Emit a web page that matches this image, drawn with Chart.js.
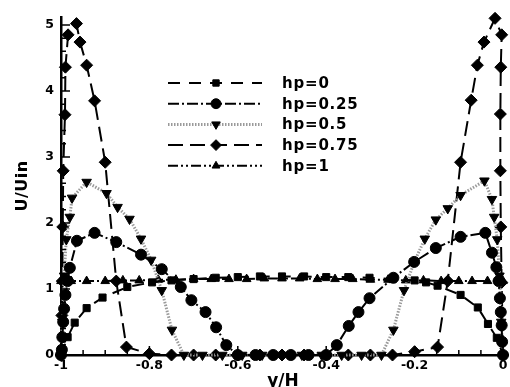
<!DOCTYPE html>
<html>
<head>
<meta charset="UTF-8">
<title>U/Uin profiles</title>
<script src="https://cdn.jsdelivr.net/npm/chart.js"></script>
<style>
  body { margin: 0; background: #fff; }
  #wrap { width: 510px; height: 387px; }
</style>
</head>
<body>
<div id="wrap"><canvas id="profile"></canvas></div>
<script>
const seriesNames = ['hp=0', 'hp=0.25', 'hp=0.5', 'hp=0.75', 'hp=1'];

// hp=0
const hp0X = [-1, -0.985, -0.969, -0.942, -0.906, -0.85, -0.794, -0.75, -0.70, -0.65, -0.60, -0.55, -0.50,
  -0.45, -0.40, -0.35, -0.302, -0.25, -0.2, -0.174, -0.148, -0.096, -0.057, -0.034, -0.014, 0];
const hp0Y = [0, 0.27, 0.49, 0.71, 0.87, 1.03, 1.1, 1.13, 1.15, 1.17, 1.18, 1.19, 1.19,
  1.19, 1.18, 1.18, 1.17, 1.15, 1.13, 1.1, 1.05, 0.91, 0.72, 0.47, 0.26, 0];

// hp=0.25
const hp025X = [-1, -0.998, -0.997, -0.995, -0.993, -0.99, -0.985, -0.98,
  -0.964, -0.924, -0.875, -0.819, -0.772, -0.729, -0.705, -0.673, -0.649, -0.626,
  -0.6, -0.56, -0.52, -0.48, -0.44, -0.40,
  -0.376, -0.349, -0.327, -0.302, -0.248, -0.201, -0.152, -0.096, -0.04,
  -0.025, -0.015, -0.01, -0.007, -0.005, -0.003, -0.002, 0];
const hp025Y = [0, 0.08, 0.27, 0.5, 0.7, 0.91, 1.12, 1.32,
  1.73, 1.85, 1.71, 1.52, 1.3, 1.03, 0.83, 0.65, 0.42, 0.15,
  0, 0, 0, 0, 0, 0,
  0.15, 0.44, 0.65, 0.86, 1.17, 1.41, 1.62, 1.79, 1.85,
  1.55, 1.33, 1.12, 0.86, 0.65, 0.45, 0.2, 0];

// hp=0.5
const hp05X = [-1, -0.997, -0.993, -0.988, -0.98, -0.975,
  -0.942, -0.897, -0.872, -0.845, -0.819, -0.796, -0.772, -0.749, -0.722,
  -0.68, -0.635, -0.59, -0.545, -0.5, -0.455, -0.41, -0.365, -0.32, -0.275,
  -0.248, -0.224, -0.2, -0.177, -0.152, -0.125, -0.096, -0.042,
  -0.025, -0.02, -0.013, -0.008, -0.004, 0];
const hp05Y = [0, 0.5, 1.2, 1.75, 2.09, 2.38,
  2.62, 2.45, 2.24, 2.06, 1.76, 1.44, 0.98, 0.38, 0,
  0, 0, 0, 0, 0, 0, 0, 0, 0, 0,
  0.38, 0.98, 1.42, 1.76, 2.05, 2.22, 2.42, 2.64,
  2.36, 2.09, 1.75, 1.2, 0.5, 0];

// hp=0.75
const hp075X = [-1, -0.998, -0.997, -0.996, -0.995, -0.991, -0.99, -0.984,
  -0.965, -0.957, -0.942, -0.924, -0.9, -0.875, -0.852, -0.8,
  -0.75, -0.7, -0.65, -0.6, -0.55, -0.5, -0.45, -0.4, -0.35, -0.3, -0.25,
  -0.2, -0.148, -0.125, -0.096, -0.072, -0.058, -0.043, -0.018,
  -0.003, -0.005, -0.006, -0.006, -0.005, -0.003, 0];
const hp075Y = [0, 0.6, 1.12, 1.94, 2.79, 3.64, 4.36, 4.85,
  5.02, 4.74, 4.39, 3.85, 2.92, 1.12, 0.12, 0.02,
  0, 0, 0, 0, 0, 0, 0, 0, 0, 0, 0,
  0.05, 0.12, 1.12, 2.92, 3.86, 4.39, 4.74, 5.1,
  4.85, 4.36, 3.65, 2.79, 1.94, 1.1, 0];

// hp=1
const hp1X = [-1, -0.977, -0.942, -0.9, -0.86, -0.823, -0.78, -0.74, -0.7, -0.66, -0.62, -0.58, -0.54,
  -0.5, -0.46, -0.42, -0.38, -0.34, -0.3, -0.26, -0.22, -0.18, -0.14, -0.1, -0.07, -0.035, 0];
const hp1Y = [1.12, 1.12, 1.12, 1.12, 1.13, 1.13, 1.14, 1.14, 1.15, 1.15, 1.15, 1.15, 1.16,
  1.16, 1.16, 1.15, 1.15, 1.15, 1.14, 1.14, 1.13, 1.13, 1.12, 1.12, 1.12, 1.12, 1.12];

const xTicks = [-1, -0.8, -0.6, -0.4, -0.2, 0];
const xTickLabels = ['-1', '-0.8', '-0.6', '-0.4', '-0.2', '0'];
const yTicks = [0, 1, 2, 3, 4, 5];
const yTickLabels = ['0', '1', '2', '3', '4', '5'];

const seriesX = [hp0X, hp025X, hp05X, hp075X, hp1X];
const seriesY = [hp0Y, hp025Y, hp05Y, hp075Y, hp1Y];

// line + marker look per series
const looks = [
  { dash: [12, 9],             color: '#000',    width: 2, marker: 'rect',     rot: 0,   r: 5 },
  { dash: [11, 3, 2, 3],       color: '#000',    width: 2, marker: 'circle',   rot: 0,   r: 5.5 },
  { dash: [1.5, 1.5],          color: '#9a9a9a', width: 3, marker: 'triangle', rot: 180, r: 5.5 },
  { dash: [15, 7],             color: '#000',    width: 2, marker: 'rectRot',  rot: 0,   r: 6 },
  { dash: [10, 3, 2, 3, 2, 3], color: '#000',    width: 2, marker: 'triangle', rot: 0,   r: 5 },
];

const datasets = seriesNames.map((name, i) => ({
  label: name,
  data: seriesX[i].map((x, k) => ({ x: x, y: seriesY[i][k] })),
  showLine: true,
  borderColor: looks[i].color,
  borderWidth: looks[i].width,
  borderDash: looks[i].dash,
  pointStyle: looks[i].marker,
  pointRotation: looks[i].rot,
  pointRadius: looks[i].r,
  pointBackgroundColor: '#000',
  pointBorderColor: '#000',
  pointBorderWidth: 1,
  tension: 0,
  clip: false
}));

const FONT = '"DejaVu Sans", "Liberation Sans", Arial, sans-serif';

function spacedText(ctx, txt, x, y, spacing) {
  ctx.letterSpacing = spacing + 'px';
  ctx.fillText(txt, x, y);
  ctx.letterSpacing = '0px';
}

// inward ticks, tick labels, axis titles and the in-plot legend
const decor = {
  id: 'decor',
  afterDraw(chart) {
    const { ctx, chartArea: a, scales: { x, y } } = chart;
    ctx.save();
    ctx.setLineDash([]);
    ctx.strokeStyle = '#000';
    ctx.lineWidth = 1.5;
    ctx.beginPath();
    for (let v = -1; v <= 0.0001; v += 0.05) {
      const px = x.getPixelForValue(v);
      const major = Math.abs(Math.round(v * 5) - v * 5) < 1e-6;
      ctx.moveTo(px, a.bottom);
      ctx.lineTo(px, a.bottom - (major ? 9 : 5));
    }
    for (let v = 0; v <= 5.0001; v += 0.2) {
      const py = y.getPixelForValue(v);
      const major = Math.abs(Math.round(v) - v) < 1e-6;
      ctx.moveTo(a.left, py);
      ctx.lineTo(a.left + (major ? 9 : 5), py);
    }
    ctx.stroke();

    ctx.fillStyle = '#000';
    ctx.font = 'bold 12.5px ' + FONT;
    ctx.textAlign = 'center';
    ctx.textBaseline = 'top';
    xTicks.forEach((v, i) => spacedText(ctx, xTickLabels[i], x.getPixelForValue(v), a.bottom + 4, 0));
    ctx.textAlign = 'right';
    ctx.textBaseline = 'middle';
    yTicks.forEach((v, i) => spacedText(ctx, yTickLabels[i], a.left - 7, y.getPixelForValue(v), 0));

    ctx.font = 'bold 17px ' + FONT;
    ctx.textAlign = 'center';
    ctx.textBaseline = 'alphabetic';
    spacedText(ctx, 'y/H', 283, 386, 0);
    ctx.save();
    ctx.translate(27, 186);
    ctx.rotate(-Math.PI / 2);
    ctx.font = 'bold 16px ' + FONT;
    spacedText(ctx, 'U/Uin', 0, 0, 0.5);
    ctx.restore();

    // legend
    const x0 = 168, x1 = 262, mx = 216, tx = 282;
    ctx.font = 'bold 15px ' + FONT;
    ctx.textAlign = 'left';
    ctx.textBaseline = 'middle';
    chart.data.datasets.forEach((ds, i) => {
      const ry = 83 + i * 20.7;
      ctx.strokeStyle = ds.borderColor;
      ctx.lineWidth = ds.borderWidth;
      ctx.setLineDash(ds.borderDash);
      ctx.beginPath();
      ctx.moveTo(x0, ry);
      ctx.lineTo(x1, ry);
      ctx.stroke();
      ctx.setLineDash([]);
      ctx.fillStyle = '#000';
      ctx.strokeStyle = '#000';
      ctx.lineWidth = 1;
      Chart.helpers.drawPoint(ctx, {
        pointStyle: ds.pointStyle, rotation: ds.pointRotation,
        radius: ds.pointRadius * 0.9, borderWidth: 1
      }, mx, ry);
      ctx.fillStyle = '#000';
      spacedText(ctx, ds.label, tx, ry + 1, 0.8);
    });
    ctx.restore();
  }
};

new Chart(document.getElementById('profile'), {
  type: 'scatter',
  data: { datasets: datasets },
  options: {
    responsive: true,
    maintainAspectRatio: false,
    animation: false,
    layout: { padding: { top: 17, right: 2, left: 0, bottom: 0 } },
    plugins: { legend: { display: false }, tooltip: { enabled: false } },
    scales: {
      x: {
        type: 'linear', min: -1, max: 0,
        grid: { display: false },
        border: { display: true, color: '#000', width: 2.5 },
        ticks: { display: false },
        afterFit: s => { s.height = 32; }
      },
      y: {
        type: 'linear', min: 0, max: 5.12,
        grid: { display: false },
        border: { display: true, color: '#000', width: 2.5 },
        ticks: { display: false },
        afterFit: s => { s.width = 61; }
      }
    }
  },
  plugins: [decor]
});
</script>
</body>
</html>
